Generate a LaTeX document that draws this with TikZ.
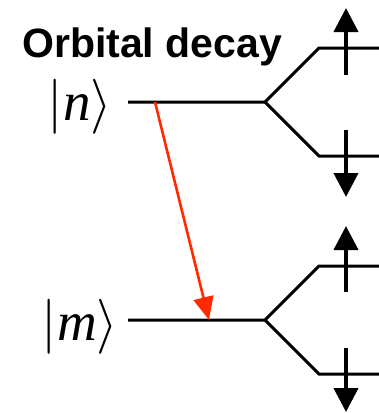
\documentclass[tikz,border=0pt]{standalone}
\usepackage{fontspec}
\setmainfont{Liberation Serif}
\newfontfamily\arialfont{Liberation Sans}
\usetikzlibrary{arrows.meta}
\definecolor{decayred}{HTML}{FF2A00}
\tikzset{
  level/.style={line width=3pt, black},
  spinarrow/.style={line width=4pt, black, -{Triangle[length=24pt,width=24pt]}},
  decayarrow/.style={line width=2.6pt, decayred, -{Triangle[length=23pt,width=20pt]}},
  ketlabel/.style={anchor=base, inner sep=0pt, scale=5.5, font=\fontsize{10}{12}\selectfont},
  titlelabel/.style={anchor=base west, inner sep=0pt, font=\arialfont\bfseries\fontsize{41}{47}\selectfont}
}
\begin{document}
\begin{tikzpicture}[x=1pt,y=-1pt]
\useasboundingbox (0,0) rectangle (379,413);
% title
\node[titlelabel] (title) at (22,57) {Orbital decay};
% labels
\node[ketlabel] (ketn) at (80,120) {$|\textit{n}\rangle$};
\node[ketlabel] (ketm) at (80,340) {$|\textit{m}\rangle$};
% upper level
\coordinate (n0) at (128,102);
\coordinate (nsplit) at (265,102);
\coordinate (nup) at (319,48);
\coordinate (nupend) at (379,48);
\coordinate (ndn) at (319,156);
\coordinate (ndnend) at (379,156);
\draw[level] (n0) -- (nsplit) -- (nup) -- (nupend);
\draw[level] (nsplit) -- (ndn) -- (ndnend);
% lower level
\coordinate (m0) at (128,320);
\coordinate (msplit) at (265,320);
\coordinate (mup) at (319,266);
\coordinate (mupend) at (379,266);
\coordinate (mdn) at (319,374);
\coordinate (mdnend) at (379,374);
\draw[level] (m0) -- (msplit) -- (mup) -- (mupend);
\draw[level] (msplit) -- (mdn) -- (mdnend);
% spin arrows
\coordinate (s1a) at (346,75);  \coordinate (s1b) at (346,8);
\coordinate (s2a) at (346,130); \coordinate (s2b) at (346,197);
\coordinate (s3a) at (346,292); \coordinate (s3b) at (346,226);
\coordinate (s4a) at (346,348); \coordinate (s4b) at (346,412);
\draw[spinarrow] (s1a) -- (s1b);
\draw[spinarrow] (s2a) -- (s2b);
\draw[spinarrow] (s3a) -- (s3b);
\draw[spinarrow] (s4a) -- (s4b);
% decay arrow
\coordinate (dstart) at (155,102);
\coordinate (dend) at (209,320);
\draw[decayarrow] (dstart) -- (dend);
\end{tikzpicture}
\end{document}
